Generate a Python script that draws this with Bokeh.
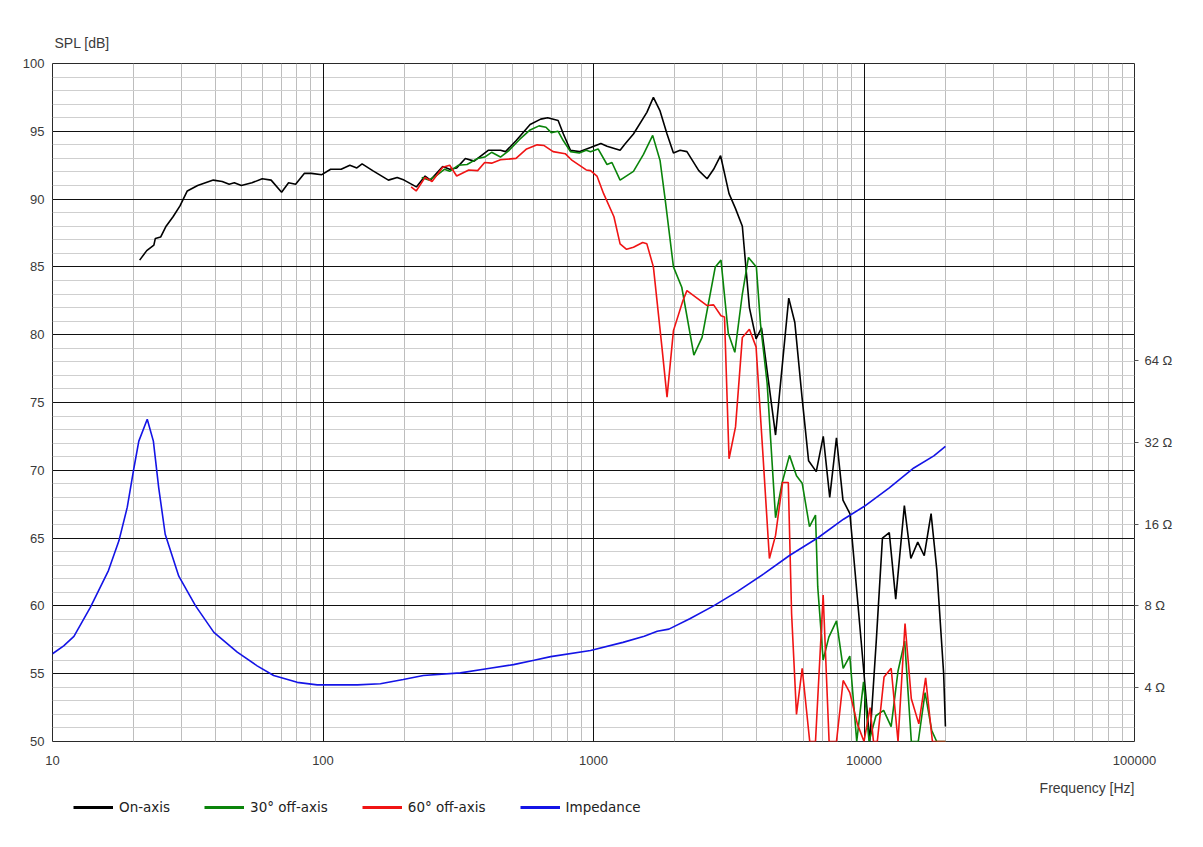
from bokeh.plotting import figure
from bokeh.layouts import column
from bokeh.models import (Range1d, LogScale, LogAxis, FixedTicker, CustomJSTickFormatter,
                          Legend, LegendItem, Grid, Label)
from bokeh.embed import file_html
from bokeh.resources import INLINE

# ---------------- data ----------------
on_f = [21.0, 22.3, 23.7, 24.0, 25.1, 26.3, 27.9, 29.6, 31.5, 34.4,
        39.3, 42.4, 45.0, 47.0, 49.9, 54.6, 59.6, 64.3, 70.3, 74.6,
        79.2, 85.4, 90.6, 99.0, 106.7, 116.7, 125.7, 133.4, 139.5, 152.6,
        174.5, 188, 199.4, 221.4, 238.5, 249.5, 277, 294, 312, 336,
        362, 408, 453, 473, 517, 583, 638, 677, 740, 774,
        822, 886, 975, 1065, 1122, 1254, 1312, 1405, 1575, 1665,
        1762, 1870, 1975, 2090, 2215, 2450, 2630, 2780, 2950, 3170,
        3350, 3550, 3770, 3990, 4180, 4400, 4710, 5270, 5550, 5900,
        6240, 6660, 7070, 7470, 7910, 8360, 8870, 9450, 10000, 10500,
        11100, 11700, 12400, 13100, 14100, 14900, 15800, 16700, 17700, 18600,
        19700, 20000]
on_db = [85.5, 86.2, 86.6, 87.1, 87.2, 88.0, 88.7, 89.5, 90.6, 91.0,
         91.4, 91.3, 91.1, 91.2, 91.0, 91.2, 91.5, 91.4, 90.5, 91.2,
         91.1, 91.9, 91.9, 91.8, 92.2, 92.2, 92.5, 92.3, 92.6, 92.1,
         91.4, 91.6, 91.4, 90.9, 91.7, 91.4, 92.4, 92.2, 92.3, 93.0,
         92.8, 93.6, 93.6, 93.5, 94.3, 95.5, 95.9, 96.0, 95.8, 94.8,
         93.6, 93.5, 93.8, 94.1, 93.9, 93.6, 94.1, 94.8, 96.4, 97.5,
         96.5, 94.8, 93.4, 93.6, 93.5, 92.1, 91.5, 92.2, 93.2, 90.4,
         89.3, 88.0, 82.0, 79.7, 80.5, 77.1, 72.6, 82.7, 80.9, 75.4,
         70.7, 69.9, 72.5, 68.0, 72.4, 67.8, 66.8, 60.6, 55.0, 50.0,
         57.4, 65.0, 65.4, 60.5, 67.4, 63.5, 64.7, 63.7, 66.8, 62.6,
         55.0, 51.1]

off30_f = [231.6, 246, 261, 281, 294, 317, 341, 373, 396, 420,
           453, 488, 533, 583, 629, 667, 698, 740, 774, 822,
           886, 940, 975, 1040, 1122, 1170, 1254, 1405, 1530, 1655,
           1762, 1840, 1975, 2120, 2350, 2520, 2820, 2960, 3150, 3330,
           3550, 3740, 4000, 4143, 4385, 4710, 4983, 5303, 5629, 5908,
           6288, 6618, 6745, 7063, 7413, 7913, 8375, 8862, 9400, 9960,
           10440, 11070, 11820, 12600, 13360, 14140, 14960, 15870, 16820, 17800,
           18570, 20000]
off30_db = [91.6, 91.4, 91.7, 92.2, 92.05, 92.5, 92.55, 93.0, 93.1, 93.45,
            93.1, 93.6, 94.4, 95.1, 95.4, 95.3, 94.9, 95.0, 94.3, 93.5,
            93.4, 93.6, 93.5, 93.7, 92.55, 92.7, 91.4, 92.05, 93.3, 94.7,
            92.85, 90.0, 85.0, 83.5, 78.5, 79.8, 85.0, 85.5, 80.1, 78.7,
            83.0, 85.7, 85.0, 80.8, 76.4, 66.5, 69.1, 71.1, 69.6, 69.05,
            65.85, 66.7, 61.4, 56.0, 57.7, 58.9, 55.4, 56.3, 50.0, 54.4,
            50.0, 51.9, 52.3, 51.1, 55.2, 57.4, 50.0, 50.0, 53.6, 50.8,
            50.0, 50.0]

off60_f = [211.7, 221, 238.5, 253, 277, 294, 312, 346, 373, 396,
           420, 453, 517, 566, 619, 657, 709, 786, 834, 940,
           975, 1030, 1090, 1190, 1254, 1325, 1405, 1520, 1575, 1665,
           1790, 1870, 1975, 2140, 2215, 2630, 2780, 2960, 3050, 3170,
           3350, 3550, 3770, 3990, 4220, 4470, 4710, 5000, 5250, 5400,
           5629, 5908, 6300, 6618, 7063, 7430, 7913, 8375, 8862, 9450,
           10000, 10530, 10840, 11200, 11860, 12600, 13360, 14180, 14960, 15950,
           16900, 17900, 18800, 20000]
off60_db = [90.9, 90.6, 91.6, 91.3, 92.35, 92.5, 91.7, 92.15, 92.1, 92.7,
            92.65, 92.9, 93.0, 93.7, 94.0, 93.95, 93.5, 93.35, 92.85, 92.15,
            92.1, 91.7, 90.4, 88.7, 86.7, 86.3, 86.45, 86.8, 86.7, 85.0,
            79.1, 75.4, 80.3, 82.5, 83.25, 82.15, 82.2, 81.4, 81.3, 70.85,
            73.2, 79.8, 80.4, 79.1, 71.5, 63.5, 65.2, 69.1, 69.1, 59.4,
            52.0, 55.4, 50.0, 50.0, 60.8, 50.0, 50.0, 54.5, 53.6, 51.3,
            50.0, 52.5, 50.0, 50.0, 54.75, 55.4, 50.0, 58.7, 53.15, 51.3,
            54.7, 50.0, 50.0, 50.0]

imp_f = [10, 11.0, 12.0, 13.8, 16.1, 17.6, 18.9, 20.0, 20.85, 22.4,
         23.6, 24.7, 26.1, 29.3, 33.8, 39.5, 48.2, 57.1, 65.7, 80.3,
         95.2, 134, 163, 198, 235, 322, 403, 506, 603, 695,
         975, 1285, 1540, 1720, 1900, 2270, 2780, 3420, 4260, 5320,
         6780, 8400, 10000, 12400, 15280, 18120, 20000]
imp_ohm = [5.33, 5.7, 6.18, 7.9, 10.8, 13.9, 18.5, 25.8, 32.4, 39.0,
           32.4, 21.8, 14.7, 10.3, 8.0, 6.39, 5.4, 4.81, 4.43, 4.18,
           4.09, 4.09, 4.13, 4.28, 4.43, 4.53, 4.69, 4.86, 5.04, 5.2,
           5.48, 5.87, 6.18, 6.45, 6.57, 7.17, 8.0, 9.07, 10.5, 12.3,
           14.3, 16.7, 18.6, 21.8, 25.8, 28.6, 31.0]

x_decades = [10, 100, 1000, 10000, 100000]
spl_ticks = [50, 55, 60, 65, 70, 75, 80, 85, 90, 95, 100]
imp_ticks = [4, 8, 16, 32, 64]

series_names = ["On-axis", "30° off-axis", "60° off-axis", "Impedance"]
series_colors = ["#000000", "#0a840a", "#f01414", "#1414e6"]
series_data = [(on_f, on_db), (off30_f, off30_db), (off60_f, off60_db), (imp_f, imp_ohm)]

# ---------------- main figure ----------------
TICK_FONT = "Liberation Sans"
LABEL_COLOR = "#3a3a3a"
W = 1195
H1 = 775
H2 = 64

p = figure(width=W, height=H1, x_axis_type="log",
           x_range=Range1d(10, 100000), y_range=Range1d(50, 100),
           output_backend="svg", toolbar_location=None,
           min_border_left=52, min_border_right=61, min_border_top=63, min_border_bottom=34,
           background_fill_color="white", border_fill_color="white")
p.outline_line_color = "#2a2a2a"
p.outline_line_width = 1

minor_x = [m * d for d in x_decades[:-1] for m in range(2, 10)]
p.xaxis.ticker = FixedTicker(ticks=x_decades)
p.xaxis.formatter = CustomJSTickFormatter(code="return String(Math.round(tick));")
p.yaxis.ticker = FixedTicker(ticks=spl_ticks)

# grids: all minor lines first, then the black major lines on top
p.xgrid.visible = False
p.ygrid.visible = False
grids = [
    Grid(dimension=0, ticker=FixedTicker(ticks=[], minor_ticks=minor_x),
         grid_line_color=None, minor_grid_line_color="#bdbdbd", minor_grid_line_width=1),
    Grid(dimension=1, ticker=FixedTicker(ticks=[], minor_ticks=list(range(50, 101))),
         grid_line_color=None, minor_grid_line_color="#cfcfcf", minor_grid_line_width=1),
    Grid(dimension=1, ticker=FixedTicker(ticks=spl_ticks),
         grid_line_color="#111111", grid_line_width=1),
    Grid(dimension=0, ticker=FixedTicker(ticks=x_decades),
         grid_line_color="#111111", grid_line_width=1),
]
for g in grids:
    p.add_layout(g, "center")

# impedance axis (log, right)
p.extra_y_ranges = {"imp": Range1d(2.5298, 800)}
p.extra_y_scales = {"imp": LogScale()}
imp_axis = LogAxis(y_range_name="imp", ticker=FixedTicker(ticks=imp_ticks),
                   formatter=CustomJSTickFormatter(code="return tick.toFixed(0) + ' Ω';"))
p.add_layout(imp_axis, "right")

for ax in [p.xaxis[0], p.yaxis[0], imp_axis]:
    ax.axis_line_color = None
    ax.major_tick_in = 0
    ax.major_tick_out = 0
    ax.minor_tick_in = 0
    ax.minor_tick_out = 0
    ax.major_label_text_font = TICK_FONT
    ax.major_label_text_font_size = "13px"
    ax.major_label_text_color = LABEL_COLOR
p.xaxis.major_label_standoff = 14
p.yaxis.major_label_standoff = 8
imp_axis.major_tick_out = 4
imp_axis.major_tick_line_color = "#555555"
imp_axis.major_label_standoff = 6

# curves
p.line(on_f, on_db, color=series_colors[0], line_width=1.6)
p.line(off30_f, off30_db, color=series_colors[1], line_width=1.6)
p.line(off60_f, off60_db, color=series_colors[2], line_width=1.6)
p.line(imp_f, imp_ohm, color=series_colors[3], line_width=1.6, y_range_name="imp")

# y-axis title
p.title.text = "SPL [dB]"
p.title.align = "left"
p.title.offset = 2
p.title.standoff = 26
p.title.text_font = TICK_FONT
p.title.text_font_size = "14px"
p.title.text_font_style = "normal"
p.title.text_color = LABEL_COLOR

# ---------------- strip under the chart: x title + legend ----------------
# (its frame is aligned with the main frame by the column layout: left edge at x=52)
p2 = figure(width=W, height=H2, title=None, x_range=Range1d(0, 1), y_range=Range1d(0, 1),
            output_backend="svg", toolbar_location=None, min_border=0,
            x_axis_location=None, y_axis_location=None,
            background_fill_color="white", border_fill_color="white")
p2.outline_line_color = None
p2.grid.visible = False

p2.add_layout(Label(x=1082, y=H2 + H1 - 787, x_units="screen", y_units="screen",
                    text="Frequency [Hz]", text_align="right", text_baseline="middle",
                    text_font=TICK_FONT, text_font_size="14px", text_color=LABEL_COLOR))

# legend samples: the series drawn (thick) on this strip's own ranges, so only the
# legend glyphs are visible
items = []
for name, col, (xs, ys) in zip(series_names, series_colors, series_data):
    r = p2.line(xs, ys, color=col, line_width=3)
    items.append(LegendItem(label=name, renderers=[r]))
legend = Legend(items=items, orientation="horizontal", location=(21, H2 + H1 - 815),
                border_line_color=None, background_fill_alpha=0,
                label_text_font="DejaVu Sans", label_text_font_size="13.5px",
                label_text_color="#222222",
                glyph_width=40, glyph_height=16, label_standoff=6, spacing=34,
                padding=2, margin=0)
p2.add_layout(legend, "center")

layout = column(p, p2, spacing=0)

with open("out.html", "w", encoding="utf-8") as fh:
    fh.write(file_html(layout, INLINE))
